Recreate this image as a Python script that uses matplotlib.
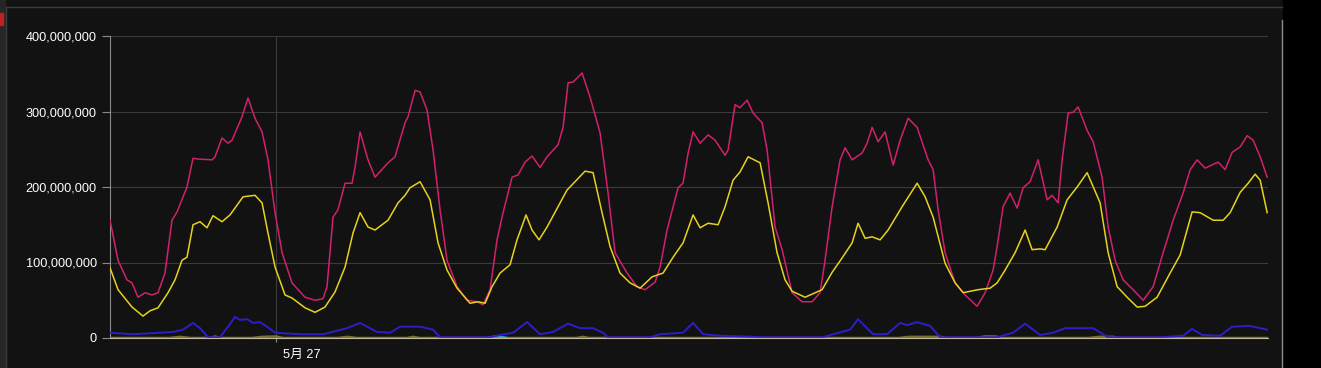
import matplotlib.pyplot as plt
import matplotlib.transforms as mtrans
from matplotlib.ticker import FuncFormatter
from matplotlib.patches import Rectangle
from matplotlib.lines import Line2D

# hours since 5/26 00:00, values in millions
mag_h = [0, 1.16, 2.46, 3.18, 4.05, 5.06, 6.07, 6.94, 7.95, 8.96, 9.69, 11.13, 12.0, 12.72, 14.75,
         15.18, 16.19, 17.06, 17.64, 19.08, 19.95, 20.96, 21.98, 22.84, 23.86, 24.87, 26.31, 28.19,
         29.64, 30.80, 31.37, 32.24, 32.96, 33.98, 34.99, 35.42, 36.15, 37.30, 38.31, 40.19, 41.20,
         42.65, 43.08, 44.10, 44.82, 45.83, 46.70, 47.71, 48.72, 50.17, 51.61, 53.06, 53.93, 54.94,
         55.95, 56.82, 58.12, 58.99, 60.0, 61.01, 62.17, 63.18, 64.77, 65.49, 66.22, 66.94, 68.24,
         69.40, 70.84, 72.0, 73.01, 74.75, 76.19, 77.35, 78.80, 79.52, 80.53, 82.12, 82.84, 83.57,
         84.29, 85.30, 86.46, 87.47, 88.92, 89.35, 90.36, 91.08, 92.10, 92.96, 94.27, 94.99, 96.14,
         97.16, 98.60, 100.05, 101.49, 102.65, 103.37, 104.39, 105.54, 106.27, 107.28, 108.72,
         109.45, 110.17, 111.04, 112.05, 113.21, 114.22, 115.38, 116.68, 118.27, 118.99, 119.71,
         120.72, 122.17, 123.61, 125.35, 126.51, 127.66, 128.24, 129.11, 130.12, 131.13, 132.0,
         133.01, 134.17, 135.47, 136.19, 137.06, 137.64, 138.51, 139.23, 139.95, 141.25, 142.12,
         143.42, 144.29, 145.30, 146.46, 147.90, 149.35, 150.80, 152.24, 153.69, 155.13, 156.15,
         157.16, 158.31, 160.19, 161.20, 162.22, 163.38, 164.39, 165.25, 166.27, 167.28]
mag_v = [156, 103, 77, 73, 54, 60, 57, 60, 86, 156, 167, 200, 238, 237, 236,
         240, 265, 258, 262, 293, 318, 291, 273, 236, 166, 113, 73, 54,
         50, 52, 68, 160, 170, 205, 205, 226, 273, 236, 213, 232, 240,
         285, 293, 328, 326, 302, 249, 170, 103, 68, 50, 48, 44, 64,
         130, 166, 213, 216, 233, 241, 226, 240, 256, 279, 338, 339, 351,
         319, 272, 192, 113, 86, 68, 64, 74, 94, 143, 199, 205, 245,
         273, 258, 269, 262, 242, 249, 309, 305, 315, 298, 285, 249, 147,
         117, 60, 48, 48, 60, 103, 174, 236, 252, 236, 245,
         258, 279, 260, 273, 229, 262, 291, 279, 236, 223, 170,
         113, 73, 57, 42, 60, 90, 121, 174, 192, 172, 199,
         207, 236, 183, 189, 179, 236, 298, 299, 306, 275, 260,
         213, 147, 103, 77, 64, 50, 68, 113, 156, 192, 223,
         236, 225, 233, 223, 246, 253, 268, 262, 240, 213]

yel_h = [0, 1.16, 3.18, 4.77, 5.78, 6.94, 8.39, 9.40, 10.41, 11.13, 12.0, 13.01, 14.02, 14.89,
         16.19, 17.35, 19.23, 20.96, 21.98, 22.84, 23.86, 25.30, 26.31, 28.19, 29.64, 31.08, 32.53,
         33.98, 35.13, 36.15, 37.30, 38.31, 40.19, 41.64, 42.65, 43.37, 44.82, 46.27, 47.42, 48.72,
         50.17, 52.05, 53.21, 54.22, 55.23, 56.39, 57.83, 58.84, 60.14, 61.01, 62.02, 63.18, 66.07,
         68.68, 69.83, 71.13, 72.29, 73.73, 75.18, 76.63, 78.36, 79.95, 81.40, 82.84, 84.29, 85.30,
         86.46, 87.90, 88.92, 90.07, 91.08, 92.24, 93.98, 95.13, 96.43, 97.59, 98.60, 100.48,
         102.94, 104.39, 105.83, 107.28, 108.14, 109.16, 110.17, 111.33, 112.48, 114.51, 116.68,
         117.83, 118.99, 120.72, 122.17, 123.33, 125.49, 127.23, 128.24, 129.40, 130.84, 132.29,
         133.30, 134.46, 135.18, 136.92, 138.36, 139.81, 141.25, 143.13, 144.29, 145.59, 147.04,
         148.48, 149.64, 151.37, 153.25, 154.70, 156.43, 157.59, 159.47, 160.92, 161.93, 163.38,
         164.53, 165.54, 166.27, 167.28]
yel_v = [93, 64, 41, 29, 36, 40, 60, 77, 103, 107, 150, 154, 146, 162,
         154, 163, 187, 189, 179, 139, 94, 57, 53, 40, 34, 41, 61,
         94, 139, 166, 147, 143, 156, 179, 189, 199, 207, 183, 126, 90,
         66, 46, 48, 46, 68, 86, 97, 130, 163, 143, 130, 147, 196,
         221, 219, 166, 121, 86, 73, 66, 81, 86, 107, 126, 163, 146,
         152, 150, 174, 209, 220, 240, 232, 179, 113, 77, 62, 54,
         64, 87, 106, 126, 152, 132, 134, 130, 143, 174, 205,
         187, 160, 99, 73, 60, 64, 66, 73, 90, 113, 143,
         117, 118, 117, 147, 183, 200, 219, 179, 113, 68, 54,
         41, 42, 54, 86, 110, 167, 166, 156, 156, 166, 193,
         205, 217, 209, 166]

blue_h = [0, 3.33, 9.11, 10.55, 12.0, 13.01, 14.17, 15.90, 17.06, 18.07, 18.80, 19.81, 20.67, 21.69,
          22.70, 23.86, 27.47, 30.80, 34.27, 36.15, 38.60, 40.48, 41.93, 44.82, 46.70, 47.71, 54.94,
          56.39, 58.27, 60.29, 62.17, 64.05, 66.22, 67.95, 69.83, 71.28, 72.0, 78.07, 79.52, 82.84,
          84.29, 85.74, 88.19, 94.99, 103.09, 104.53, 106.99, 108.14, 110.31, 112.34, 114.22,
          115.23, 116.68, 118.56, 120.0, 128.24, 130.55, 132.29, 134.46, 136.34, 138.07, 142.12,
          144.29, 151.80, 155.13, 156.43, 157.88, 160.48, 162.22, 164.82, 167.28]
blue_v = [7, 5, 8, 11, 20, 13, 1, 1, 15, 28, 24, 25, 20, 21,
          15, 7, 5, 5, 13, 20, 8, 7, 15, 15, 11, 1, 1,
          4, 7, 21, 5, 8, 19, 13, 13, 7, 1, 1, 5, 7,
          20, 5, 3, 1, 1, 5, 11, 25, 5, 5, 20,
          17, 21, 16, 1, 1, 7, 19, 4, 7, 13, 13,
          1, 1, 3, 12, 4, 3, 15, 16, 11]

olive_h = [0, 8.7, 10.1, 11.6, 14.5, 15.2, 15.9, 20.5, 22, 24, 25, 33, 34.3, 35.7, 43, 43.8, 44.8,
           67.5, 68.3, 69.2, 114, 115.5, 120, 121, 125, 126.5, 128, 129, 141.5, 143, 145, 146, 167.3]
olive_v = [0, 0, 1.5, 0, 0, 2, 0, 0, 1.5, 2, 0, 0, 1.5, 0, 0, 1.5, 0,
           0, 1.5, 0, 0, 1.5, 1.5, 0, 0, 2, 2, 0, 0, 1.5, 1.5, 0, 0]
cyan_h = [54.5, 56, 57.3]
cyan_v = [0, 2.5, 0]

yticks = [0, 100, 200, 300, 400]
xtick_h = [24]
xtick_lab = ['5月 27']

plt.rcParams['font.family'] = ['Liberation Sans', 'Noto Sans CJK JP', 'DejaVu Sans']

fig = plt.figure(figsize=(13.21, 3.68), dpi=100, facecolor='#121212')
ax = fig.add_axes([110/1321, 30/368, 1158/1321, 302/368])
ax.set_facecolor('#121212')

ax.plot(olive_h, olive_v, color='#b6b84a', lw=1.8, alpha=0.6, zorder=2)
ax.plot(cyan_h, cyan_v, color='#30c0d0', lw=1.8, alpha=0.8, zorder=2)
ax.plot(blue_h, blue_v, color='#2d1ec8', lw=1.4, zorder=3, solid_joinstyle='round')
ax.plot(mag_h, mag_v, color='#d2206e', lw=1.1, zorder=4, solid_joinstyle='round')
ax.plot(yel_h, yel_v, color='#e6d21e', lw=1.1, zorder=5, solid_joinstyle='round')

ax.set_xlim(0, 167.4)
ax.set_ylim(0, 400)
ax.set_yticks(yticks)
ax.yaxis.set_major_formatter(FuncFormatter(lambda v, p: f'{int(v * 1e6):,}'))
ax.set_xticks(xtick_h)
ax.set_xticklabels(xtick_lab, ha='left')

ax.grid(True, color='#3a3a3a', lw=0.8)
ax.set_axisbelow(True)
ax.tick_params(axis='y', colors='#8a8a8a', labelcolor='white', labelsize=9.2, length=6, width=0.8)
ax.tick_params(axis='x', colors='#8a8a8a', labelcolor='white', labelsize=9.2, length=3, width=0.8, pad=5)
shift = mtrans.ScaledTranslation(5/72, 0, fig.dpi_scale_trans)
for lab in ax.get_xticklabels():
    lab.set_transform(lab.get_transform() + shift)
for s in ['top', 'right']:
    ax.spines[s].set_visible(False)
ax.spines['left'].set_color('#8a8a8a')
ax.spines['bottom'].set_color('#c9b79c')
ax.spines['bottom'].set_zorder(6)

# window frame of the screenshot
fig.patches.append(Rectangle((1283/1321, 0), 38/1321, 1, transform=fig.transFigure, color='black'))
fig.patches.append(Rectangle((0, 0), 5/1321, 1, transform=fig.transFigure, color='#262626'))
fig.patches.append(Rectangle((0, 343/368), 3/1321, 12/368, transform=fig.transFigure, color='#c02020'))
fig.lines.append(Line2D([1282/1321, 1282/1321], [0, 348/368], transform=fig.transFigure, color='#8c8c8c', lw=1))
fig.lines.append(Line2D([6/1321, 1282/1321], [361/368, 361/368], transform=fig.transFigure, color='#3c3c3c', lw=1))
fig.lines.append(Line2D([6/1321, 6/1321], [0, 361/368], transform=fig.transFigure, color='#3c3c3c', lw=1))

fig.savefig('out.png', dpi=100, facecolor=fig.get_facecolor())
